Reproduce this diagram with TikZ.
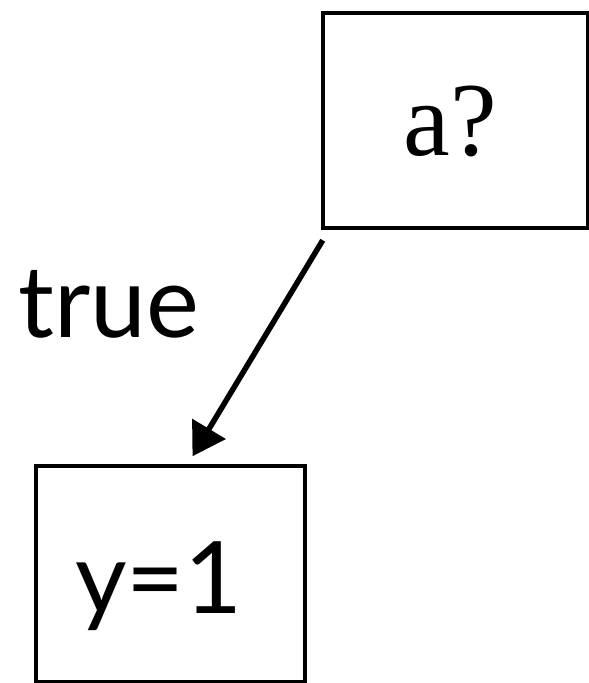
\documentclass[tikz,border=0pt]{standalone}
\usepackage{fontspec}
\setmainfont{Lato}
\newfontfamily\serifq{Liberation Serif}
\usetikzlibrary{arrows.meta}
\begin{document}
\begin{tikzpicture}[x=1pt,y=-1pt,
  box/.style={draw, line width=4.5pt, minimum width=265pt, minimum height=215pt, inner sep=0pt},
  boxthin/.style={draw, line width=3.5pt, minimum width=269pt, minimum height=216pt, inner sep=0pt},
  lbl/.style={font=\fontsize{100}{110}\selectfont, inner sep=0pt}]
\useasboundingbox (0,0) rectangle (589,683);
\node[box] (a) at (455.5,120.5) {};
\node[font=\serifq\fontsize{105}{115}\selectfont, inner sep=0pt, anchor=base] (atext) at (450,155) {a?};
\node[boxthin] (b) at (170.5,574) {};
\node[lbl, anchor=base] (btext) at (159,613) {y=1};
\node[lbl, anchor=base west] (t) at (18,337) {true};
\draw[line width=5.5pt, -{Triangle[length=32pt,width=38pt]}]
  ([shift={(2pt,-10pt)}]a.south west) -- ([shift={(22pt,8pt)}]b.north);
\end{tikzpicture}
\end{document}
